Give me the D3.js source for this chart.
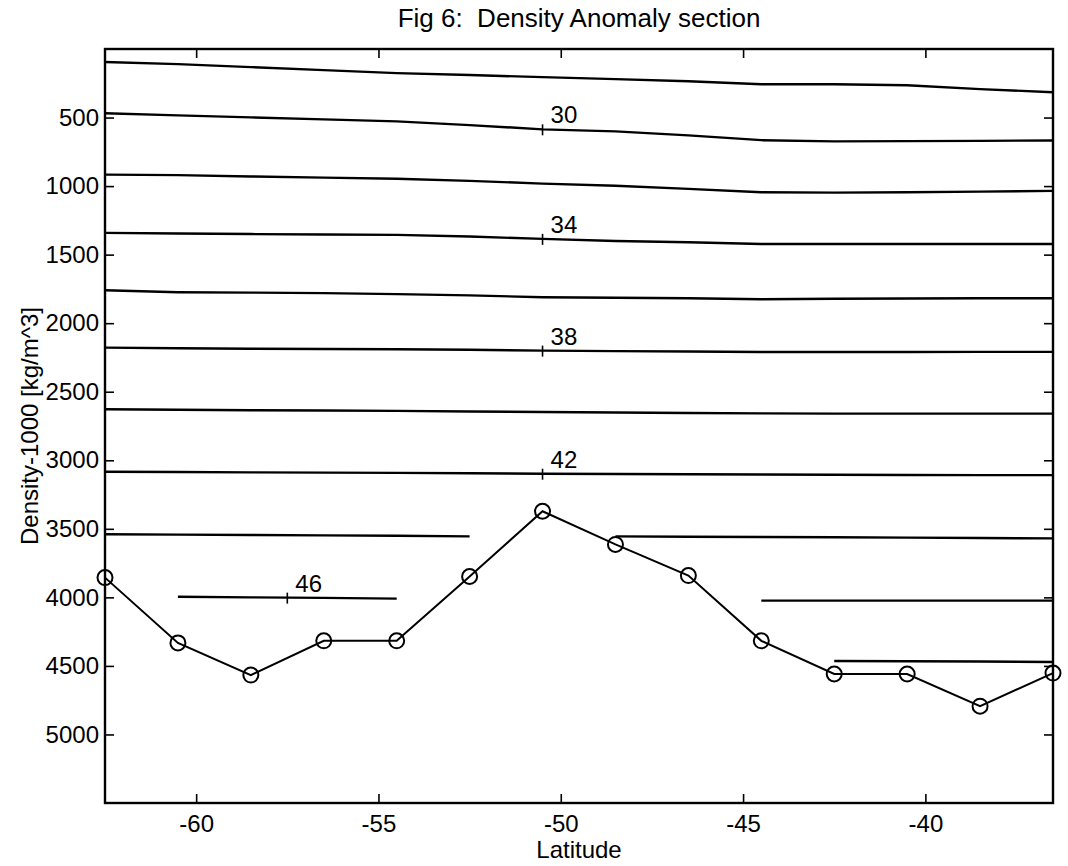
<!DOCTYPE html>
<html>
<head>
<meta charset="utf-8">
<script src="https://cdn.jsdelivr.net/npm/d3@7"></script>
<style>
body { margin: 0; background: #fff; }
text { font-family: "Liberation Sans", Arial, Helvetica, sans-serif; fill: #000; }
</style>
</head>
<body>
<div id="chart"></div>
<script>
// station latitudes and bottom depth (circles)
const stations = [-62.5, -60.5, -58.5, -56.5, -54.5, -52.5, -50.5, -48.5, -46.5, -44.5, -42.5, -40.5, -38.5, -36.5];
const bottom = [3856, 4332, 4567, 4317, 4317, 3848, 3372, 3614, 3841, 4317, 4559, 4559, 4794, 4552];

// isoline depths at each station, null = no line there
const sig28 = [95, 110, 132, 154, 176, 190, 205, 220, 235, 257, 257, 264, 293, 315];
const sig30 = [469, 484, 499, 513, 528, 555, 586, 601, 630, 665, 674, 672, 670, 667];
const sig32 = [916, 920, 930, 938, 946, 962, 982, 997, 1020, 1045, 1048, 1045, 1040, 1035];
const sig34 = [1341, 1346, 1350, 1353, 1356, 1368, 1385, 1400, 1410, 1422, 1422, 1422, 1422, 1422];
const sig36 = [1760, 1774, 1777, 1781, 1788, 1797, 1811, 1814, 1818, 1825, 1822, 1820, 1818, 1818];
const sig38 = [2178, 2183, 2186, 2188, 2190, 2194, 2200, 2204, 2207, 2210, 2210, 2210, 2209, 2209];
const sig40 = [2628, 2632, 2635, 2637, 2640, 2644, 2648, 2652, 2655, 2658, 2660, 2660, 2660, 2660];
const sig42 = [3084, 3086, 3088, 3090, 3092, 3095, 3098, 3100, 3102, 3104, 3106, 3107, 3108, 3108];
const sig44a = [3540, 3542, 3545, 3548, 3551, 3555, null, null, null, null, null, null, null, null];
const sig44b = [null, null, null, null, null, null, null, 3555, 3558, 3560, 3562, 3564, 3567, 3570];
const sig46a = [null, 3996, 4000, 4004, 4009, null, null, null, null, null, null, null, null, null];
const sig46b = [null, null, null, null, null, null, null, null, null, 4024, 4024, 4024, 4024, 4024];
const sig48 = [null, null, null, null, null, null, null, null, null, null, 4464, 4466, 4468, 4471];

// inline labels
const labelText = ["30", "34", "38", "42", "46"];
const labelLat = [-50.5, -50.5, -50.5, -50.5, -57.5];
const labelLine = [sig30, sig34, sig38, sig42, sig46a];

const xTicks = [-60, -55, -50, -45, -40];
const yTicks = [500, 1000, 1500, 2000, 2500, 3000, 3500, 4000, 4500, 5000];

const W = 1068, H = 866;
const L = 105, R = 1053, T = 49, B = 803;

const svg = d3.select("#chart").append("svg")
  .attr("width", W).attr("height", H);
svg.append("rect").attr("width", W).attr("height", H).attr("fill", "#fff");

const x = d3.scaleLinear().domain([-62.5, -36.5]).range([L, R]);
const y = d3.scaleLinear().domain([0, 5500]).range([T, B]);

// plain number labels, ascii minus like the original
const fmt = d => String(d);

// axes, ticks inward on all four sides
const tk = 9;
const gB = svg.append("g").attr("transform", `translate(0,${B})`)
  .call(d3.axisBottom(x).tickValues(xTicks).tickSizeInner(-tk).tickSizeOuter(0).tickPadding(12).tickFormat(fmt));
const gL = svg.append("g").attr("transform", `translate(${L},0)`)
  .call(d3.axisLeft(y).tickValues(yTicks).tickSizeInner(-tk).tickSizeOuter(0).tickPadding(6).tickFormat(fmt));
const gT = svg.append("g").attr("transform", `translate(0,${T})`)
  .call(d3.axisTop(x).tickValues(xTicks).tickSizeInner(-tk).tickSizeOuter(0).tickFormat(""));
const gR = svg.append("g").attr("transform", `translate(${R},0)`)
  .call(d3.axisRight(y).tickValues(yTicks).tickSizeInner(-tk).tickSizeOuter(0).tickFormat(""));
[gB, gL, gT, gR].forEach(g => {
  g.select(".domain").remove();
  g.selectAll("line").attr("stroke", "#000").attr("stroke-width", 1.6);
  g.selectAll("text").style("font-size", "24px").attr("fill", "#000");
});

// contour lines
const lines = [sig28, sig30, sig32, sig34, sig36, sig38, sig40, sig42, sig44a, sig44b, sig46a, sig46b, sig48];
const line = d3.line()
  .defined(d => d[1] != null)
  .x(d => x(d[0]))
  .y(d => y(d[1]));
svg.append("g").selectAll("path").data(lines).join("path")
  .attr("d", arr => line(stations.map((s, i) => [s, arr[i]])))
  .attr("fill", "none").attr("stroke", "#000").attr("stroke-width", 2.4);

// contour labels with the small cross tick
labelText.forEach((t, i) => {
  const idx = stations.map((s, j) => [s, labelLine[i][j]]).filter(d => d[1] != null);
  const f = d3.scaleLinear().domain(idx.map(d => d[0])).range(idx.map(d => d[1]));
  const px = x(labelLat[i]), py = y(f(labelLat[i]));
  svg.append("line").attr("x1", px).attr("x2", px).attr("y1", py - 5).attr("y2", py + 6)
    .attr("stroke", "#000").attr("stroke-width", 1.6);
  svg.append("text").attr("x", px + 8).attr("y", py - 6)
    .style("font-size", "24px").text(t);
});

// bottom line with circles
svg.append("path")
  .attr("d", d3.line().x(d => x(d[0])).y(d => y(d[1]))(stations.map((s, i) => [s, bottom[i]])))
  .attr("fill", "none").attr("stroke", "#000").attr("stroke-width", 2);
svg.append("g").selectAll("circle").data(stations).join("circle")
  .attr("cx", d => x(d)).attr("cy", (d, i) => y(bottom[i])).attr("r", 7.5)
  .attr("fill", "none").attr("stroke", "#000").attr("stroke-width", 2);

// box
svg.append("rect").attr("x", L).attr("y", T).attr("width", R - L).attr("height", B - T)
  .attr("fill", "none").attr("stroke", "#000").attr("stroke-width", 2.4);

// titles
svg.append("text").attr("x", (L + R) / 2).attr("y", 27).attr("text-anchor", "middle")
  .style("font-size", "26px").style("white-space", "pre").text("Fig 6:  Density Anomaly section");
svg.append("text").attr("x", (L + R) / 2).attr("y", 858).attr("text-anchor", "middle")
  .style("font-size", "24px").text("Latitude");
svg.append("text").attr("transform", `translate(38,${(T + B) / 2}) rotate(-90)`)
  .attr("text-anchor", "middle").style("font-size", "24px").text("Density-1000 [kg/m^3]");
</script>
</body>
</html>
